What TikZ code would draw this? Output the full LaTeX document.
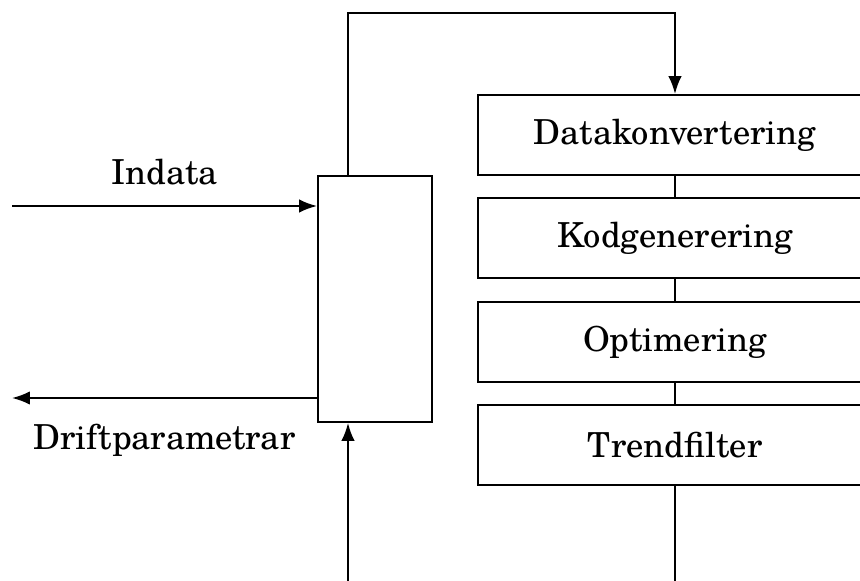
\documentclass[tikz,border=0pt]{standalone}
\usepackage{fontspec}
\setmainfont{TeX Gyre Schola}
\usetikzlibrary{arrows.meta,positioning}

\def\Lx{348}
\def\Mx{675}

\begin{document}
\begin{tikzpicture}[x=0.02cm, y=-0.02cm, line width=1.1pt,
    every node/.style={font=\fontsize{19.6}{23}\selectfont},
    >={Latex[length=3.6mm,width=2.7mm]},
    stage/.style={draw, minimum width=7.88cm, minimum height=1.6cm, inner sep=0pt},
    ctrlbox/.style={draw, minimum width=2.28cm, minimum height=4.92cm, inner sep=0pt}]
    \useasboundingbox (0,0) rectangle (860,581);
    \clip (0,0) rectangle (860,581);

    \node[ctrlbox] (ctrl) at (375,299) {};

    \node[stage] (conv) at (\Mx,135) {Datakonvertering};
    \node[stage, below=0.43cm of conv] (kod) {Kodgenerering};
    \node[stage, below=0.43cm of kod] (opt) {Optimering};
    \node[stage, below=0.43cm of opt] (trend) {Trendfilter};

    \coordinate (bend) at (\Lx,13);
    \coordinate (feed) at (\Lx,581);
    \coordinate (in) at (12,206);
    \coordinate (out) at (12,398);
    \coordinate (end) at (\Mx,581);

    \draw[->] (ctrl.north -| bend) -- (bend) -| (conv.north);
    \draw (conv.south) -- (kod.north);
    \draw (kod.south) -- (opt.north);
    \draw (opt.south) -- (trend.north);
    \draw (trend.south) -- (end);

    \draw[->] (in) -- (in -| ctrl.west) node[midway, above=8pt] {Indata};
    \draw[->] (ctrl.west |- out) -- (out) node[midway, below=11pt] {Driftparametrar};
    \draw[->] (feed) -- (feed |- ctrl.south);
\end{tikzpicture}
\end{document}
